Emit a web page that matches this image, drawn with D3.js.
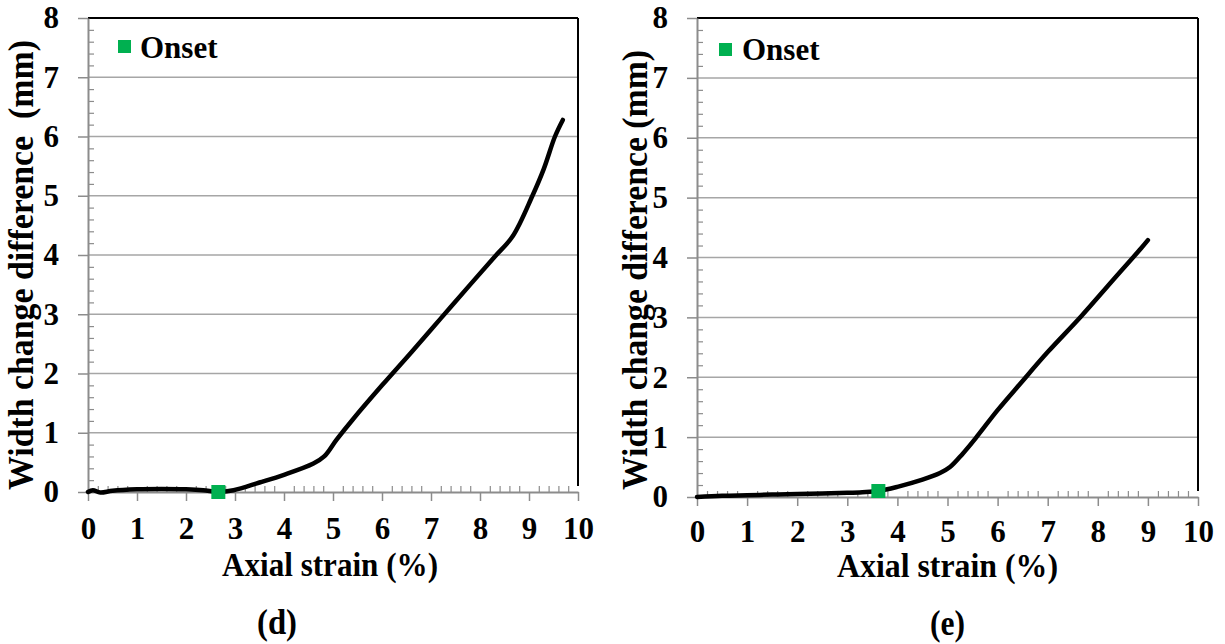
<!DOCTYPE html>
<html>
<head>
<meta charset="utf-8">
<script src="https://cdn.jsdelivr.net/npm/d3@7"></script>
<style>
  html, body { margin: 0; padding: 0; background: #fff; }
  svg { display: block; }
  text { font-family: "Liberation Serif", "Times New Roman", serif; font-weight: bold; fill: #000; white-space: pre; }
</style>
</head>
<body>
<svg id="chart" width="1225" height="644"></svg>
<script>
// ---------- data ----------
const xTickValues = [0, 1, 2, 3, 4, 5, 6, 7, 8, 9, 10];
const yTickValues = [0, 1, 2, 3, 4, 5, 6, 7, 8];
const xTitle = "Axial strain (%)";
const yTitleD = "Width change difference  (mm)";
const yTitleE = "Width change difference (mm)";
const legendLabel = "Onset";

// panel (d)
const strainD = [0, 0.1, 0.25, 0.5, 1.0, 1.5, 2.0, 2.35, 2.66, 2.97, 3.5, 4.0, 4.6, 4.82, 5.07, 5.4, 6.0, 6.6, 7.2, 7.8, 8.3, 8.67, 9.07, 9.3, 9.53, 9.69];
const widthD  = [0, 0.03, -0.01, 0.02, 0.045, 0.05, 0.045, 0.03, 0.0, 0.03, 0.16, 0.29, 0.48, 0.6, 0.88, 1.22, 1.8, 2.36, 2.93, 3.5, 3.97, 4.32, 5.0, 5.45, 6.0, 6.28];
const onsetD = [2.66, 0.0];

// panel (e)
const strainE = [0, 0.5, 1.0, 1.5, 2.0, 2.5, 3.0, 3.3, 3.62, 4.0, 4.5, 4.85, 5.05, 5.3, 5.56, 6.0, 6.46, 7.0, 7.66, 8.3, 8.86, 9.0];
const widthE  = [0, 0.02, 0.03, 0.04, 0.05, 0.06, 0.07, 0.08, 0.1, 0.17, 0.29, 0.4, 0.5, 0.72, 0.98, 1.45, 1.9, 2.42, 3.01, 3.62, 4.15, 4.29];
const onsetE = [3.62, 0.1];

// ---------- layout ----------
const panels = [
  { left: 88, right: 578, top: 18, bottom: 492, xs: strainD, ys: widthD, onset: onsetD, xPad: 16,
    yTitle: yTitleD, yTitleX: 33, yTitleY: 265, yTitleLen: 450,
    xTitleX: 330, xTitleY: 576, xTitleLen: 216,
    cap: "(d)", capX: 277, capY: 634, capLen: 40,
    legX: 118, legY: 40, legTextX: 140, legTextY: 58 },
  { left: 697, right: 1198, top: 18, bottom: 497, xs: strainE, ys: widthE, onset: onsetE, xPad: 14,
    yTitle: yTitleE, yTitleX: 647, yTitleY: 270, yTitleLen: 440,
    xTitleX: 947.5, xTitleY: 577, xTitleLen: 221,
    cap: "(e)", capX: 947.5, capY: 635, capLen: 35,
    legX: 719, legY: 43, legTextX: 742, legTextY: 60 }
];

const svg = d3.select("#chart");
const GREEN = "#00B050";
const GRID = "#a6a6a6";
const AXIS = "#8c8c8c";

panels.forEach(p => {
  const x = d3.scaleLinear().domain([0, 10]).range([p.left, p.right]);
  const y = d3.scaleLinear().domain([0, 8]).range([p.bottom, p.top]);
  const g = svg.append("g");

  // gridlines
  g.append("g").selectAll("line").data(yTickValues.filter(v => v > 0 && v < 8)).join("line")
    .attr("x1", p.left).attr("x2", p.right)
    .attr("y1", d => y(d)).attr("y2", d => y(d))
    .attr("stroke", GRID).attr("stroke-width", 1.5);

  // top & right frame
  g.append("line").attr("x1", p.left).attr("x2", p.right).attr("y1", y(8)).attr("y2", y(8))
    .attr("stroke", "#000").attr("stroke-width", 2);
  g.append("line").attr("x1", p.right).attr("x2", p.right).attr("y1", y(8)).attr("y2", y(0.1))
    .attr("stroke", "#000").attr("stroke-width", 2);

  // minor ticks (inside)
  const minorX = d3.range(0, 10.001, 0.2).filter(v => Math.abs(v - Math.round(v)) > 1e-6);
  const minorY = d3.range(0, 8.001, 0.2).filter(v => Math.abs(v - Math.round(v)) > 1e-6);
  const xMinor = d3.axisTop(x).tickValues(minorX).tickSize(6).tickFormat("");
  const yMinor = d3.axisRight(y).tickValues(minorY).tickSize(6).tickFormat("");
  g.append("g").attr("transform", `translate(0,${p.bottom})`).call(xMinor)
    .call(s => s.select(".domain").remove()).selectAll("line").attr("stroke", AXIS).attr("stroke-width", 1.2);
  g.append("g").attr("transform", `translate(${p.left},0)`).call(yMinor)
    .call(s => s.select(".domain").remove()).selectAll("line").attr("stroke", AXIS).attr("stroke-width", 1.2);

  // major axes
  const xAxis = d3.axisBottom(x).tickValues(xTickValues).tickSize(9).tickSizeOuter(0).tickPadding(p.xPad).tickFormat(d3.format("d"));
  const yAxis = d3.axisLeft(y).tickValues(yTickValues).tickSize(10).tickSizeOuter(0).tickPadding(19).tickFormat(d3.format("d"));
  const gx = g.append("g").attr("transform", `translate(0,${p.bottom})`).call(xAxis);
  const gy = g.append("g").attr("transform", `translate(${p.left},0)`).call(yAxis);
  [gx, gy].forEach(a => {
    a.select(".domain").attr("stroke", AXIS).attr("stroke-width", 2);
    a.selectAll(".tick line").attr("stroke", AXIS).attr("stroke-width", 1.5);
    a.selectAll(".tick text").attr("font-size", 31).attr("font-family", "Liberation Serif, serif").attr("font-weight", "bold").attr("fill", "#000");
  });

  // curve
  const pts = p.xs.map((v, i) => [v, p.ys[i]]);
  g.append("path").datum(pts)
    .attr("d", d3.line().x(d => x(d[0])).y(d => y(d[1])).curve(d3.curveCatmullRom.alpha(0.5)))
    .attr("fill", "none").attr("stroke", "#000").attr("stroke-width", 4.5)
    .attr("stroke-linejoin", "round").attr("stroke-linecap", "round");

  // onset marker
  g.append("rect").attr("x", x(p.onset[0]) - 7).attr("y", y(p.onset[1]) - 7)
    .attr("width", 14).attr("height", 14).attr("fill", GREEN);

  // legend
  g.append("rect").attr("x", p.legX).attr("y", p.legY).attr("width", 13).attr("height", 13).attr("fill", GREEN);
  g.append("text").attr("x", p.legTextX).attr("y", p.legTextY).attr("font-size", 31).text(legendLabel);

  // axis titles
  g.append("text").attr("x", p.xTitleX).attr("y", p.xTitleY).attr("text-anchor", "middle")
    .attr("font-size", 34).attr("textLength", p.xTitleLen).attr("lengthAdjust", "spacingAndGlyphs").text(xTitle);
  g.append("text").attr("transform", `translate(${p.yTitleX},${p.yTitleY}) rotate(-90)`).attr("text-anchor", "middle")
    .attr("font-size", 35).attr("textLength", p.yTitleLen).attr("lengthAdjust", "spacingAndGlyphs").text(p.yTitle);

  // caption
  g.append("text").attr("x", p.capX).attr("y", p.capY).attr("text-anchor", "middle")
    .attr("font-size", 36).attr("textLength", p.capLen).attr("lengthAdjust", "spacingAndGlyphs").text(p.cap);
});
</script>
</body>
</html>
